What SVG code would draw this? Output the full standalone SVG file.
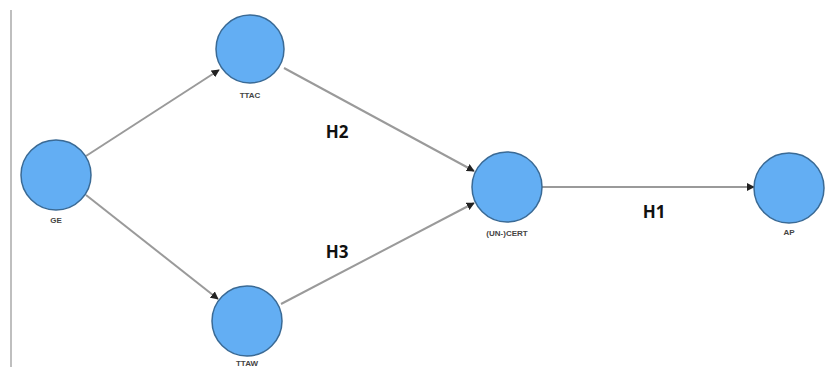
<svg xmlns="http://www.w3.org/2000/svg" width="825" height="367" viewBox="0 0 825 367">
<style>
.node circle{fill:#63aef3;stroke:#3a6a95;stroke-width:1.5}
.lbl{font-family:"Liberation Sans",Arial,sans-serif;font-size:8px;font-weight:bold;fill:#444;text-anchor:middle}
.h{font-family:"Open Sans","Liberation Sans",sans-serif;font-size:17px;font-weight:bold;fill:#111;text-anchor:middle}
.edge{stroke:#9a9a9a;stroke-width:2;fill:none;marker-end:url(#arr)}
</style>
<defs>
<marker id="arr" viewBox="0 0 10 10" refX="9" refY="5" markerWidth="4" markerHeight="4" orient="auto" markerUnits="strokeWidth">
<path d="M0,0 L10,5 L0,10 z" fill="#222"/>
</marker>
</defs>
<rect width="825" height="367" fill="#fff"/>
<line x1="11" y1="10" x2="11" y2="367" stroke="#aaa" stroke-width="1.5"/>
<g id="connectors">
<line class="edge" x1="86" y1="156" x2="219" y2="70"/>
<line class="edge" x1="86" y1="195" x2="218" y2="299"/>
<line class="edge" x1="284" y1="68" x2="474" y2="171"/>
<line class="edge" x1="281" y1="304" x2="474" y2="203"/>
<line class="edge" x1="542" y1="187" x2="754" y2="187"/>
</g>
<g id="GE" class="node"><circle cx="56" cy="175" r="35"/><text class="lbl" x="56" y="223">GE</text></g>
<g id="TTAC" class="node"><circle cx="250" cy="49" r="34"/><text class="lbl" x="250" y="98">TTAC</text></g>
<g id="TTAW" class="node"><circle cx="247" cy="321" r="35"/><text class="lbl" x="247" y="366">TTAW</text></g>
<g id="UNCERT" class="node"><circle cx="507" cy="187" r="35"/><text class="lbl" x="507" y="236">(UN-)CERT</text></g>
<g id="AP" class="node"><circle cx="789" cy="188" r="35"/><text class="lbl" x="789" y="235">AP</text></g>
<text class="h" x="337" y="138">H2</text>
<text class="h" x="337" y="258">H3</text>
<text class="h" x="654" y="218">H1</text>
</svg>
